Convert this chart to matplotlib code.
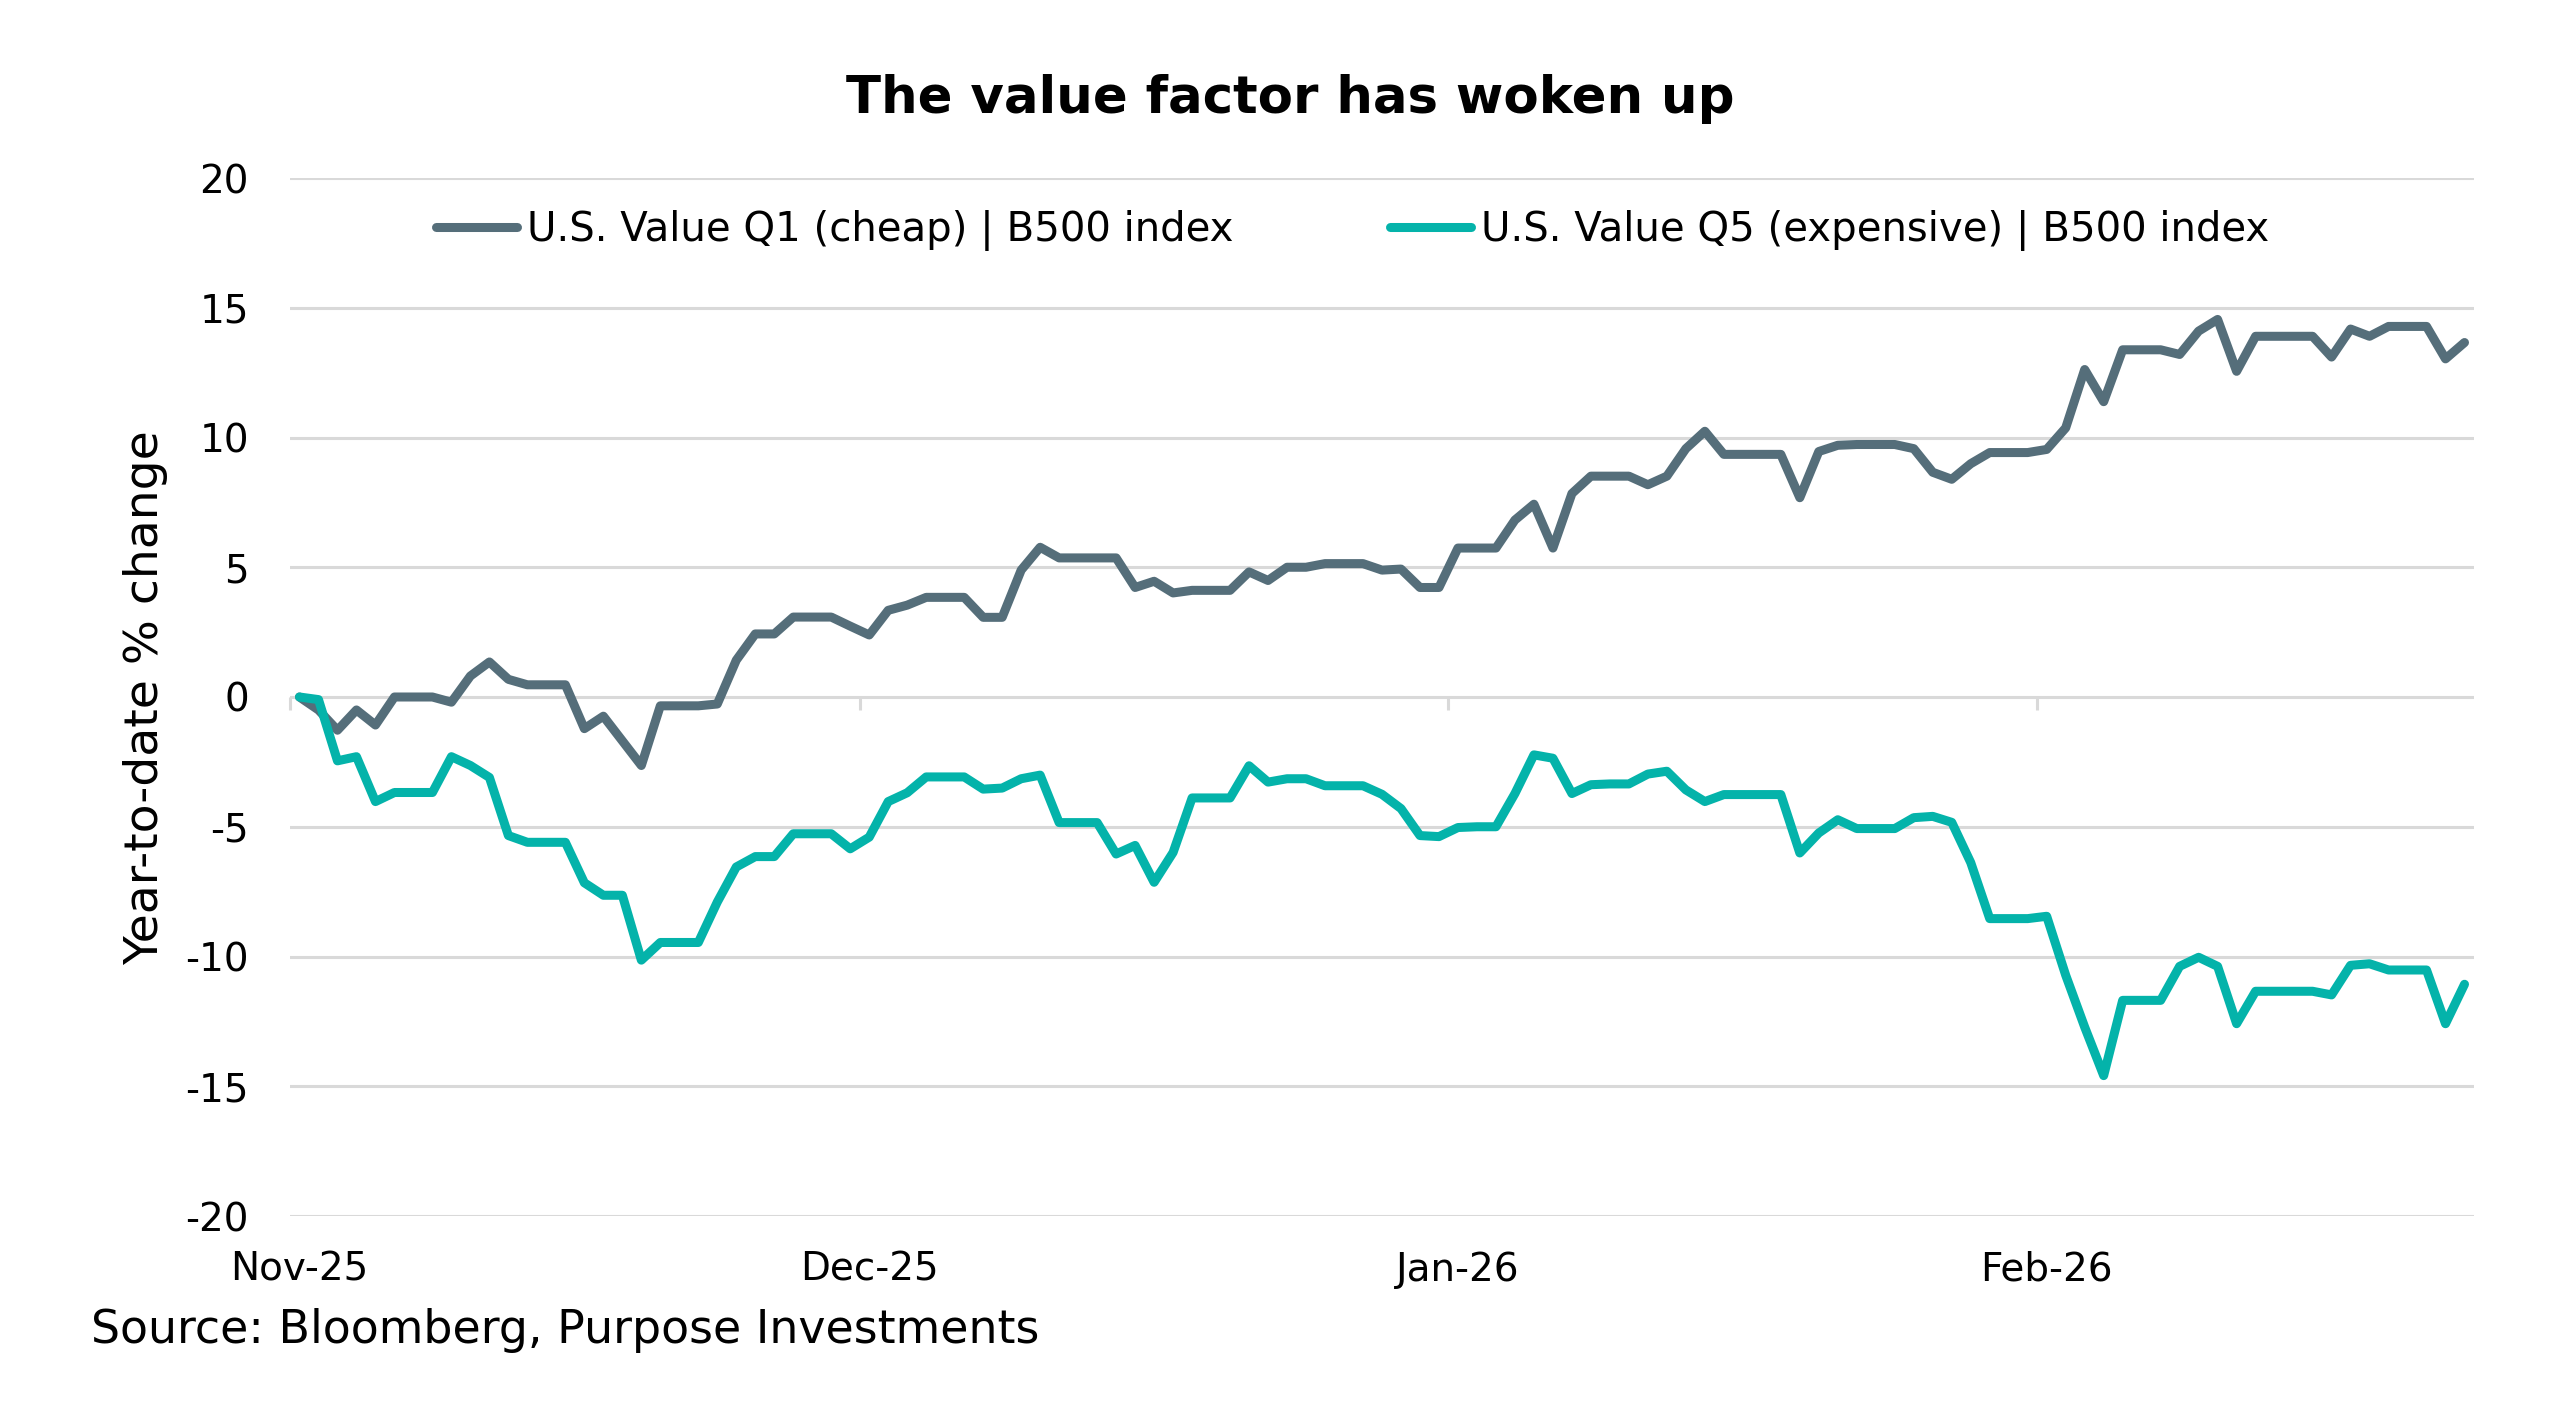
import matplotlib
matplotlib.use("Agg")
import matplotlib.pyplot as plt
import pandas as pd

# daily values, Nov 1 2025 -> Feb 23 2026
q1_cheap = [
    0.0, -0.5, -1.28, -0.5, -1.08, 0.0, 0.0, 0.0, -0.2, 0.81,
    1.35, 0.68, 0.47, 0.47, 0.47, -1.22, -0.74, -1.69, -2.64, -0.34,
    -0.34, -0.34, -0.27, 1.42, 2.43, 2.43, 3.08, 3.08, 3.08, 2.73,
    2.39, 3.34, 3.54, 3.84, 3.84, 3.84, 3.07, 3.07, 4.89, 5.77,
    5.36, 5.36, 5.36, 5.36, 4.22, 4.46, 4.01, 4.11, 4.11, 4.11,
    4.82, 4.49, 5.0, 5.0, 5.14, 5.14, 5.14, 4.89, 4.93, 4.22,
    4.22, 5.74, 5.74, 5.74, 6.82, 7.43, 5.74, 7.84, 8.51, 8.51,
    8.51, 8.18, 8.51, 9.57, 10.24, 9.35, 9.35, 9.35, 9.35, 7.68,
    9.46, 9.7, 9.73, 9.73, 9.73, 9.57, 8.66, 8.39, 8.99, 9.42,
    9.42, 9.42, 9.54, 10.37, 12.62, 11.38, 13.38, 13.38, 13.38, 13.2,
    14.1, 14.55, 12.55, 13.9, 13.9, 13.9, 13.9, 13.1, 14.18, 13.9,
    14.28, 14.28, 14.28, 13.03, 13.66,
]
q5_expensive = [
    0.0, -0.1, -2.46, -2.3, -4.03, -3.68, -3.68, -3.68, -2.3, -2.64,
    -3.1, -5.34, -5.6, -5.6, -5.6, -7.16, -7.64, -7.64, -10.14, -9.46,
    -9.46, -9.46, -7.9, -6.55, -6.15, -6.15, -5.27, -5.27, -5.27, -5.85,
    -5.4, -4.03, -3.69, -3.08, -3.08, -3.08, -3.55, -3.51, -3.15, -3.01,
    -4.84, -4.84, -4.84, -6.05, -5.72, -7.14, -5.99, -3.89, -3.89, -3.89,
    -2.65, -3.28, -3.15, -3.15, -3.42, -3.42, -3.42, -3.75, -4.3, -5.34,
    -5.38, -5.03, -5.0, -5.0, -3.72, -2.23, -2.36, -3.72, -3.38, -3.35,
    -3.35, -2.97, -2.86, -3.58, -4.03, -3.76, -3.76, -3.76, -3.76, -6.01,
    -5.24, -4.73, -5.07, -5.07, -5.07, -4.65, -4.6, -4.83, -6.38, -8.54,
    -8.54, -8.54, -8.45, -10.72, -12.72, -14.59, -11.69, -11.69, -11.69, -10.38,
    -10.03, -10.38, -12.59, -11.34, -11.34, -11.34, -11.34, -11.48, -10.34, -10.28,
    -10.52, -10.52, -10.52, -12.59, -11.07,
]
start_date = "2025-11-01"
month_starts = ["2025-11-01", "2025-12-01", "2026-01-01", "2026-02-01"]
month_labels = ["Nov-25", "Dec-25", "Jan-26", "Feb-26"]
y_ticks = [-20, -15, -10, -5, 0, 5, 10, 15, 20]
series_names = ["U.S. Value Q1 (cheap) | B500 index", "U.S. Value Q5 (expensive) | B500 index"]

plt.rcParams["font.family"] = "DejaVu Sans"

grey = "#556e7a"
teal = "#04b3aa"
gridc = "#d9d9d9"

dates = pd.date_range(start_date, periods=len(q1_cheap), freq="D") + pd.Timedelta(hours=12)
months = pd.to_datetime(month_starts)

fig = plt.figure(figsize=(25.58, 14.10), dpi=100)
ax = fig.add_axes([290 / 2558, 1 - 1216 / 1410, 2184 / 2558, 1038 / 1410])

ax.plot(dates, q1_cheap, color=grey, lw=6.5, label=series_names[0],
        solid_joinstyle="round", solid_capstyle="round")
ax.plot(dates, q5_expensive, color=teal, lw=6.5, label=series_names[1],
        solid_joinstyle="round", solid_capstyle="round")

ax.set_ylim(-20, 20)
ax.set_xlim(months[0], pd.Timestamp("2026-02-24"))
ax.set_yticks(y_ticks)
ax.set_yticklabels([str(v) for v in y_ticks])
ax.set_xticks(months + pd.Timedelta(hours=12))
ax.set_xticklabels(month_labels)
ax.tick_params(axis="y", length=0, pad=29.5, labelsize=28)
ax.tick_params(axis="x", length=0, pad=25, labelsize=28)
ax.yaxis.grid(True, color=gridc, lw=2.2)
ax.set_axisbelow(True)
for s in ax.spines.values():
    s.set_visible(False)

# tick marks on the zero line
sec = ax.secondary_xaxis(0.5)
sec.set_xticks(months)
sec.set_xticklabels([])
sec.tick_params(axis="x", direction="in", length=9, width=2.2, color=gridc)
for s in sec.spines.values():
    s.set_visible(False)

leg = ax.legend(ncol=2, loc="center", bbox_to_anchor=(0.4865, 0.9494), frameon=False,
                fontsize=29, handlelength=2.0, handletextpad=0.25, columnspacing=3.9)

fig.text(1290 / 2558, 1 - 112.5 / 1410, "The value factor has woken up", ha="center",
         va="baseline", fontsize=37, fontweight="bold")
fig.text(146 / 2558, 1 - 698 / 1410, "Year-to-date % change", rotation=90, ha="center",
         va="center", fontsize=34)
fig.text(91 / 2558, 1 - 1343 / 1410, "Source: Bloomberg, Purpose Investments", ha="left",
         va="baseline", fontsize=33)

fig.savefig("out.png", dpi=100)
